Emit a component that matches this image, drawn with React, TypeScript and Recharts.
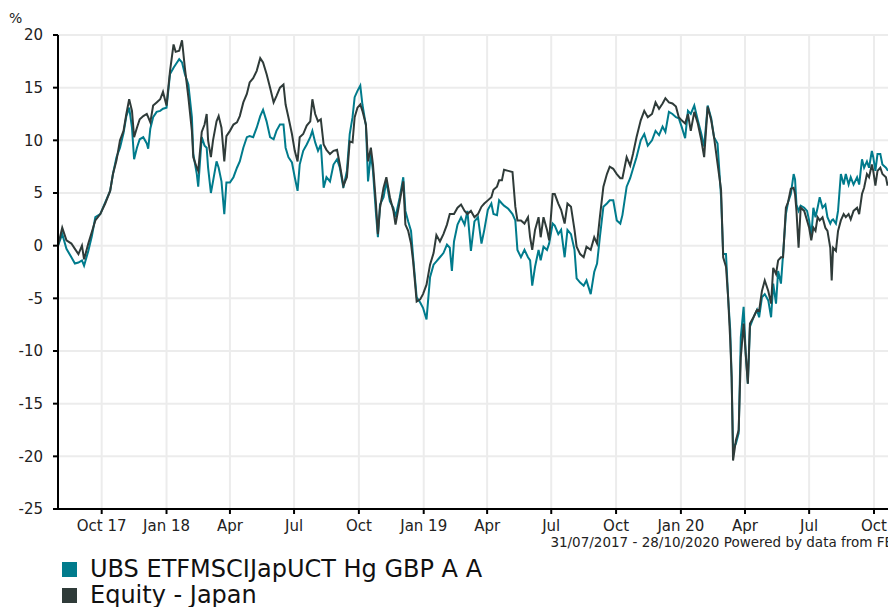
import React from "react";
import { LineChart, Line, XAxis, YAxis, CartesianGrid } from "recharts";

// Day offsets from 31/07/2017 (x positions of the samples)
const dayOffsets = [
  0, 6, 12, 19, 24, 29, 34, 37, 43, 48, 53, 60, 67, 74, 78, 83, 88, 93, 97, 101,
  105, 108, 112, 116, 121, 126, 128, 131, 135, 140, 145, 149, 154, 159, 164, 167, 172, 176, 180, 185,
  190, 192, 197, 199, 204, 208, 211, 213, 217, 220, 225, 228, 232, 236, 239, 244, 249, 254, 258, 263,
  268, 272, 277, 282, 287, 291, 296, 301, 306, 310, 315, 320, 323, 327, 332, 336, 340, 343, 348, 353,
  358, 361, 365, 369, 373, 377, 381, 386, 391, 396, 400, 405, 410, 414, 418, 421, 425, 429, 432, 437,
  440, 444, 447, 451, 454, 457, 462, 466, 471, 476, 479, 485, 490, 493, 497, 501, 504, 509, 514, 518,
  523, 528, 533, 537, 542, 547, 552, 556, 559, 562, 567, 572, 577, 581, 586, 591, 596, 601, 605, 610,
  615, 618, 623, 626, 630, 633, 639, 645, 649, 652, 657, 662, 667, 670, 673, 677, 682, 685, 689, 694,
  697, 702, 705, 710, 714, 719, 723, 728, 733, 736, 741, 746, 750, 756, 761, 765, 769, 774, 779, 783,
  788, 793, 798, 801, 807, 812, 816, 821, 827, 832, 837, 843, 848, 853, 858, 862, 867, 872, 877, 881,
  885, 890, 894, 898, 903, 908, 913, 917, 922, 927, 931, 936, 941, 944, 948, 951, 954, 956, 958, 962,
  966, 969, 973, 976, 979, 982, 987, 992, 995, 999, 1003, 1008, 1012, 1015, 1019, 1022, 1026, 1029, 1033, 1036,
  1040, 1044, 1046, 1048, 1051, 1054, 1059, 1063, 1066, 1069, 1072, 1075, 1078, 1081, 1085, 1089, 1092, 1096, 1098, 1100,
  1104, 1107, 1111, 1115, 1118, 1122, 1125, 1129, 1134, 1137, 1141, 1144, 1148, 1151, 1155, 1157, 1160, 1163, 1167, 1170,
  1175, 1177, 1185,
];

// Equity - Japan (%)
const equityJapan = [
  0, 1.7, 0.5, 0.2, -0.3, -0.8, 0, -1.3, 0.2, 1.3, 2.4, 3.0, 4.0, 5.2, 6.8, 8.1, 10.0, 10.9, 12.5, 13.9,
  12.8, 10.3, 11.2, 12.0, 12.3, 12.5, 12.2, 11.7, 13.3, 13.6, 13.9, 14.6, 13.3, 16.6, 19.1, 18.4, 18.5, 19.5, 16.9, 14.1,
  10.9, 8.4, 7.4, 7.1, 10.8, 11.5, 12.5, 10.0, 8.4, 10.0, 11.8, 12.3, 11.2, 8.0, 10.4, 10.9, 11.5, 11.7, 12.3, 13.6,
  14.4, 15.5, 15.9, 16.6, 17.8, 17.4, 16.3, 15.0, 13.6, 14.2, 15.0, 15.3, 13.4, 12.2, 10.6, 9.0, 8.0, 10.3, 10.6, 11.4,
  11.8, 13.9, 12.5, 11.8, 12.0, 9.6, 9.1, 8.7, 9.0, 9.1, 7.7, 5.7, 6.5, 9.9, 9.8, 12.2, 13.1, 13.4, 12.8, 11.5,
  8.0, 9.3, 7.7, 4.2, 1.1, 3.6, 5.5, 6.5, 4.6, 3.3, 2.0, 4.2, 6.1, 2.0, 1.4, 0.2, -1.5, -5.3, -5.1, -4.6,
  -3.7, -1.8, -0.7, 1.0, 0.4, 1.1, 2.0, 3.0, 3.0, 3.0, 3.6, 3.9, 3.3, 3.0, 3.3, 2.7, 3.0, 3.7, 4.0, 4.3,
  4.6, 5.3, 5.6, 6.2, 6.2, 7.2, 7.1, 7.0, 3.7, 2.4, 2.4, 2.1, 2.7, 0.8, -0.4, 1.5, 2.7, 0.8, 2.7, 1.5,
  0.5, 4.9, 4.9, 4.0, 3.4, 2.1, 4.0, 3.7, 1.5, -0.1, -0.8, -1.1, -0.1, -0.4, 0.8, 0.2, 2.7, 5.6, 6.8, 7.5,
  7.3, 6.8, 6.4, 6.4, 8.4, 7.6, 8.7, 10.3, 11.9, 12.8, 12.2, 12.5, 13.6, 13.0, 13.5, 14.0, 13.6, 13.5, 13.2, 12.2,
  11.9, 11.6, 12.5, 10.9, 12.7, 11.6, 10.0, 8.4, 13.2, 11.9, 10.3, 7.8, 5.3, -1.1, -2.0, -4.9, -9.0, -12.5, -20.4, -18.5,
  -17.5, -10.6, -7.4, -10.3, -13.1, -7.4, -6.8, -6.1, -6.2, -4.3, -3.3, -4.3, -5.5, -2.1, -2.7, -1.4, -1.1, -1.1, 3.6, 4.1,
  5.4, 5.5, 4.9, 3.3, -0.2, 3.6, 3.3, 2.4, 1.7, 0.5, 1.7, 1.4, 2.7, 2.4, 2.7, 1.7, 1.4, -0.2, -3.3, -0.2,
  -0.5, 1.4, 2.4, 3.0, 2.7, 3.0, 2.5, 3.3, 3.6, 3.0, 4.9, 5.5, 6.8, 6.5, 7.7, 7.1, 5.7, 7.1, 7.4, 6.8,
  6.5, 5.8, 6.0,
];

// UBS ETFMSCIJapUCT Hg GBP A A (%)
const ubsEtf = [
  0, 1.1, -0.3, -1.1, -1.7, -1.6, -1.4, -1.9, -0.5, 0.9, 2.7, 3.0, 4.1, 5.2, 6.8, 8.4, 9.3, 10.7, 12.3, 13.1,
  11.2, 8.2, 9.3, 10.1, 10.3, 9.7, 9.2, 11.1, 12.2, 12.7, 12.8, 13.0, 13.1, 16.3, 16.9, 17.2, 17.7, 17.4, 16.3, 15.3,
  12.2, 8.7, 6.8, 5.6, 10.3, 9.5, 9.3, 7.4, 5.0, 6.1, 8.0, 7.4, 6.1, 3.0, 6.0, 6.0, 6.5, 7.4, 8.0, 9.3,
  10.3, 10.4, 10.3, 11.2, 12.3, 12.9, 11.8, 10.3, 10.1, 10.9, 11.5, 11.5, 9.3, 8.4, 7.9, 6.5, 5.2, 7.7, 9.0, 9.6,
  10.3, 10.9, 9.8, 9.0, 9.6, 5.5, 6.5, 6.1, 7.7, 8.2, 7.4, 5.5, 7.1, 10.6, 12.2, 14.1, 14.7, 15.2, 13.4, 11.4,
  6.1, 8.7, 7.1, 3.3, 0.8, 3.9, 4.6, 6.1, 4.2, 3.6, 2.7, 4.6, 6.5, 3.3, 2.3, 1.4, -1.1, -4.9, -5.4, -5.9,
  -7.0, -3.0, -1.8, -1.5, -1.1, -0.7, 0.1, -0.2, -2.4, 0.4, 2.0, 2.7, 2.0, 3.3, -0.5, 2.3, 2.7, 0.2, 1.5, 3.4,
  4.0, 3.0, 2.9, 4.3, 4.0, 3.8, 3.5, 3.0, 2.4, -0.4, -1.1, -0.4, -1.1, -1.4, -3.8, -2.0, -0.4, -1.4, -0.1, -0.4,
  0.2, 2.1, 1.9, 1.1, 1.5, -1.1, 1.5, 1.1, -0.4, -3.1, -3.5, -3.8, -3.3, -4.6, -2.5, -1.7, 0.8, 3.7, 4.0, 4.3,
  4.3, 2.4, 2.1, 2.9, 5.6, 6.4, 7.3, 8.4, 10.0, 10.6, 9.5, 10.0, 10.9, 10.5, 11.3, 10.8, 12.7, 12.5, 12.2, 12.1,
  11.3, 10.2, 12.8, 12.5, 13.3, 11.9, 10.6, 9.4, 13.3, 12.1, 10.3, 9.7, 4.6, -0.8, -0.8, -4.9, -8.0, -12.5, -19.1, -18.8,
  -17.8, -8.7, -5.8, -10.3, -13.1, -7.7, -6.8, -6.1, -6.8, -4.9, -4.6, -5.2, -6.8, -3.6, -5.5, -2.4, -3.6, -0.8, 3.0, 4.1,
  4.9, 6.8, 6.3, 3.9, 3.3, 3.8, 3.6, 3.3, 2.4, 0.8, 3.6, 2.7, 3.6, 4.6, 3.6, 3.9, 2.7, 2.1, 2.4, 2.5,
  2.1, 3.3, 6.8, 5.8, 6.8, 5.8, 6.5, 5.8, 6.5, 5.8, 8.2, 7.4, 8.0, 7.4, 9.0, 8.4, 7.1, 8.7, 8.7, 7.7,
  7.4, 7.2, 7.0,
];

const tickDays = [62, 154, 244, 335, 427, 519, 609, 700, 792, 884, 975, 1066, 1158];
const tickLabels = ["Oct 17", "Jan 18", "Apr", "Jul", "Oct", "Jan 19", "Apr", "Jul", "Oct", "Jan 20", "Apr", "Jul", "Oct"];
const yTicks = [-25, -20, -15, -10, -5, 0, 5, 10, 15, 20];

const seriesNames = ["UBS ETFMSCIJapUCT Hg GBP A A", "Equity - Japan"];
const seriesColors = ["#007b8c", "#2f3b39"];
const footerText = "31/07/2017 - 28/10/2020 Powered by data from FE";

const data = dayOffsets.map((d, i) => ({ day: d, ubs: ubsEtf[i], equity: equityJapan[i] }));

const FONT = "'DejaVu Sans', Verdana, sans-serif";

export default function App() {
  const labelFor = (v: number) => {
    const idx = tickDays.indexOf(v);
    return idx >= 0 ? tickLabels[idx] : "";
  };
  return (
    <div
      style={{
        position: "fixed",
        left: 0,
        top: 0,
        width: 888,
        height: 607,
        overflow: "hidden",
        background: "#ffffff",
        fontFamily: FONT,
      }}
    >
      <div style={{ position: "relative", width: 900, height: 607 }}>
        <div style={{ position: "absolute", left: 9, top: 10, fontSize: 14, color: "#222" }}>%</div>
        <LineChart
          width={900}
          height={539}
          data={data}
          margin={{ top: 35, right: 7, bottom: 0, left: 0 }}
        >
          <CartesianGrid stroke="#ececec" strokeWidth={2} />
          <XAxis
            dataKey="day"
            type="number"
            domain={[0, 1185]}
            ticks={tickDays}
            tickFormatter={labelFor}
            interval={0}
            height={30}
            axisLine={{ stroke: "#000", strokeWidth: 2 }}
            tickLine={{ stroke: "#000", strokeWidth: 2 }}
            tickSize={5}
            tickMargin={6}
            tick={{ fill: "#222", fontSize: 15, fontFamily: FONT }}
          />
          <YAxis
            type="number"
            domain={[-25, 20]}
            ticks={yTicks}
            interval={0}
            width={58}
            axisLine={{ stroke: "#000", strokeWidth: 2 }}
            tickLine={{ stroke: "#000", strokeWidth: 2 }}
            tickSize={5}
            tickMargin={10}
            tick={{ fill: "#222", fontSize: 15, fontFamily: FONT }}
          />
          <Line
            dataKey="ubs"
            name={seriesNames[0]}
            stroke={seriesColors[0]}
            strokeWidth={2}
            dot={false}
            isAnimationActive={false}
          />
          <Line
            dataKey="equity"
            name={seriesNames[1]}
            stroke={seriesColors[1]}
            strokeWidth={2}
            dot={false}
            isAnimationActive={false}
          />
        </LineChart>
        <div
          style={{
            position: "absolute",
            right: 7,
            top: 534,
            fontSize: 13.5,
            color: "#222",
            whiteSpace: "nowrap",
          }}
        >
          {footerText}
        </div>
        <div style={{ position: "absolute", left: 62, top: 556 }}>
          {seriesNames.map((n, i) => (
            <div
              key={n}
              style={{ display: "flex", alignItems: "center", height: 26, fontSize: 24, color: "#111", whiteSpace: "nowrap" }}
            >
              <span
                style={{ display: "inline-block", width: 15, height: 15, background: seriesColors[i], marginRight: 13 }}
              />
              <span>{n}</span>
            </div>
          ))}
        </div>
      </div>
    </div>
  );
}
